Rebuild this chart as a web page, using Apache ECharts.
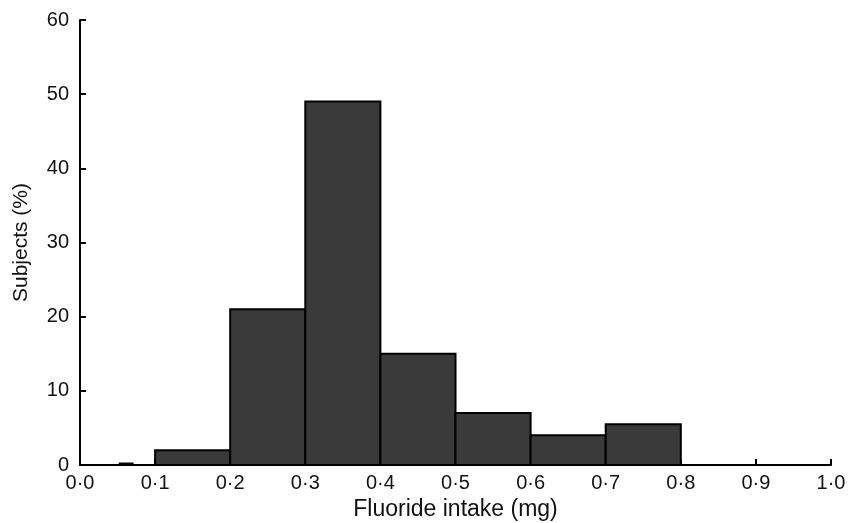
<!DOCTYPE html>
<html>
<head>
<meta charset="utf-8">
<script src="https://cdn.jsdelivr.net/npm/echarts@6/dist/echarts.min.js"></script>
<style>html,body{margin:0;padding:0;background:#fff;}#c{width:851px;height:523px;}</style>
</head>
<body>
<div id="c"></div>
<script>
// Histogram bins (mg) and subjects (%)
var binStart = [0.053, 0.1, 0.2, 0.3, 0.4, 0.5, 0.6, 0.7];
var binEnd   = [0.070, 0.2, 0.3, 0.4, 0.5, 0.6, 0.7, 0.8];
var percent  = [0.2,   2,   21,  49,  15,  7,   4,   5.5];
var xTicks = ['0·0','0·1','0·2','0·3','0·4','0·5','0·6','0·7','0·8','0·9','1·0'];
var yTicks = [0, 10, 20, 30, 40, 50, 60];

var data = binStart.map(function (s, i) { return [s, binEnd[i], percent[i]]; });

var chart = echarts.init(document.getElementById('c'));
var font = "'Liberation Sans', Arial, sans-serif";
chart.setOption({
  animation: false,
  backgroundColor: '#fff',
  grid: { left: 80, right: 20, top: 20, bottom: 58, containLabel: false, outerBoundsMode: 'none' },
  xAxis: {
    type: 'value', min: 0, max: 1, interval: 0.1,
    name: 'Fluoride intake (mg)', nameLocation: 'middle', nameGap: 33,
    nameTextStyle: { fontFamily: font, fontSize: 23, color: '#111' },
    axisLine: { lineStyle: { color: '#000', width: 2 } },
    axisTick: { show: true, inside: true, length: 6, lineStyle: { color: '#000', width: 2 } },
    axisLabel: {
      fontFamily: font, fontSize: 20, color: '#111', margin: 8,
      formatter: function (v) { return xTicks[Math.round(v * 10)]; }
    },
    splitLine: { show: false }
  },
  yAxis: {
    type: 'value', min: yTicks[0], max: yTicks[yTicks.length - 1], interval: 10,
    name: 'Subjects (%)', nameLocation: 'middle', nameGap: 48, nameRotate: 90,
    nameTextStyle: { fontFamily: font, fontSize: 21, color: '#111' },
    axisLine: { show: true, lineStyle: { color: '#000', width: 2 } },
    axisTick: { show: true, inside: true, length: 6, lineStyle: { color: '#000', width: 2 } },
    axisLabel: { fontFamily: font, fontSize: 20, color: '#111', margin: 11 },
    splitLine: { show: false }
  },
  series: [{
    type: 'custom',
    data: data,
    encode: { x: [0, 1], y: 2 },
    renderItem: function (params, api) {
      var p0 = api.coord([api.value(0), api.value(2)]);
      var p1 = api.coord([api.value(1), 0]);
      return {
        type: 'rect',
        shape: { x: p0[0], y: p0[1], width: p1[0] - p0[0], height: p1[1] - p0[1] },
        style: { fill: '#3a3a3a', stroke: '#000', lineWidth: 2 }
      };
    }
  }]
});
</script>
</body>
</html>
